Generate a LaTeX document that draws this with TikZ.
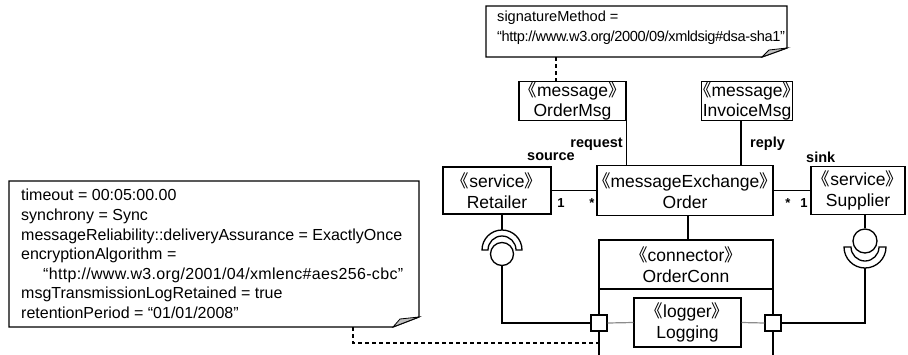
\documentclass[tikz,border=0pt]{standalone}
\usepackage{fontspec}
\setmainfont{Liberation Sans}
\newfontfamily\cjkfont{Noto Sans CJK JP}
% guillemet-style stereotype brackets, trimmed of their outer blank half
\newcommand{\stereo}[1]{\kern-.42em{\cjkfont 《}#1{\cjkfont 》}\kern-.42em}
\begin{document}
\begin{tikzpicture}[x=1pt,y=-1pt,
  box/.style={draw, line width=1.4pt, fill=white, inner sep=0pt, align=center,
    font=\fontsize{17.5}{20.5}\selectfont},
  notetext/.style={inner sep=0pt, align=left, anchor=north west,
    font=\fontsize{16}{19.6}\selectfont},
  lbl/.style={inner sep=0pt, font=\bfseries\fontsize{14.5}{16}\selectfont},
  mult/.style={inner sep=0pt, font=\bfseries\fontsize{13}{15}\selectfont},
  wire/.style={line width=1.3pt},
  inner/.style={line width=1.2pt, draw=black!45},
  dep/.style={line width=1.8pt, dash pattern=on 4pt off 3pt},
  port/.style={draw, line width=1.2pt, fill=white, minimum size=16pt, inner sep=0pt},
  ball/.style={draw, circle, line width=1.3pt, fill=white, inner sep=0pt},
  notebody/.style={draw, line width=1.3pt, fill=white},
  fold/.style={draw, line width=0.8pt, fill=black!25}
]
\useasboundingbox (0,0) rectangle (908,354);

% ---- notes ----
\path[notebody] (486,6) -- (787,6) -- (787,48) -- (762,57) -- (486,57) -- cycle;
\path[fold] (762,57) -- (787,48) -- (769,50) -- cycle;
\node[notetext, font=\fontsize{14.6}{19.6}\selectfont] (sig) at (497,11)
  {signatureMethod =\\{\addfontfeature{LetterSpace=-2.5}“http://www.w3.org/2000/09/xmldsig\#dsa-sha1”}};
\coordinate (sigB) at (556,57);

\path[notebody] (9,181) -- (419,181) -- (419,317) -- (393,327) -- (9,327) -- cycle;
\path[fold] (393,327) -- (419,317) -- (400,319) -- cycle;
\node[notetext] (qos) at (21,189) {timeout = 00:05:00.00\\
synchrony = Sync\\
messageReliability::deliveryAssurance = ExactlyOnce\\
encryptionAlgorithm =\\
\hspace*{22pt}{\addfontfeature{LetterSpace=2}“http://www.w3.org/2001/04/xmlenc\#aes256-cbc”}\\
msgTransmissionLogRetained = true\\
retentionPeriod = “01/01/2008”};
\coordinate (qosB) at (353,327);
\coordinate (qosT) at (599,343);

% ---- boxes ----
\node[box, minimum width=107pt, minimum height=37pt] (om) at (572.5,101) {\stereo{message}\\OrderMsg};
\node[box, minimum width=90pt, minimum height=37pt] (im) at (747,101) {\stereo{message}\\InvoiceMsg};
\node[box, minimum width=108pt, minimum height=47pt] (ret) at (497,190.5) {\stereo{service}\\Retailer};
\node[box, minimum width=176pt, minimum height=50pt] (ord) at (685,190.5) {\stereo{messageExchange}\\Order};
\node[box, minimum width=94pt, minimum height=48pt] (sup) at (858,190.5) {\stereo{service}\\Supplier};

% connector part with its open lower compartment
\draw[line width=1.4pt] (599,289) -- (599,358) (773,289) -- (773,358);
\node[box, minimum width=174pt, minimum height=49pt] (conn) at (686,264.5) {\stereo{connector}\\OrderConn};
\node[box, minimum width=107pt, minimum height=49pt] (log) at (687.5,322.5) {\stereo{logger}\\Logging};

% ---- ports ----
\node[port] (pL) at (599,323) {};
\node[port] (pR) at (773,323) {};

% ---- associations ----
\draw[wire] (ret.east) -- (ord.west |- ret.east);
\draw[wire] (ord.east) -- (sup.west |- ord.east);
\draw[wire] (om.south east) -- (om.south east |- ord.north);
\draw[wire] (741,0 |- im.south) -- (741,0 |- ord.north);
\draw[wire] (688,0 |- ord.south) -- (688,0 |- conn.north);

\node[lbl, anchor=east] (rq) at (623,144) {request};
\node[lbl, anchor=west] (rp) at (750,144) {reply};
\node[lbl, anchor=west] (src) at (527,157) {source};
\node[lbl, anchor=west] (snk) at (806,157) {sink};
\node[mult] (m1) at (561,203) {1};
\node[mult] (m2) at (592,203) {*};
\node[mult] (m3) at (788,203) {*};
\node[mult] (m4) at (804,203) {1};

% ---- dependencies from the notes ----
\draw[dep] (sigB) -- (sigB |- om.north);
\draw[dep] (qosB) |- (qosT);

% ---- internal links of the connector ----
\draw[inner] (pL.east) -- (log.west);
\draw[inner] (log.east) -- (pR.west);

% ---- required / provided interfaces ----
\coordinate (sockL) at (502,250);
\coordinate (sockLtop) at (502,230);
\draw[wire] (ret.south -| sockL) -- (sockLtop);
\path[draw, line width=1.3pt, fill=white] (sockL) ++(-20,0)
  arc[start angle=180, end angle=360, radius=20] -- ++(-6,0)
  arc[start angle=0, end angle=-180, radius=14] -- cycle;
\node[ball, minimum size=23pt] (ballL) at (502,254) {};
\draw[wire] (ballL.south) -- (ballL.south |- pL) -- (pL.west);

\coordinate (sockR) at (865,247);
\coordinate (sockRbot) at (865,268);
\node[ball, minimum size=24pt] (ballR) at (865,241) {};
\draw[wire] (sup.south -| ballR) -- (ballR.north);
\draw[wire] (sockRbot) -- (sockRbot |- pR) -- (pR.east);
\path[draw, line width=1.3pt, fill=white] (sockR) ++(-21,0)
  arc[start angle=180, end angle=0, radius=21] -- ++(-7,0)
  arc[start angle=0, end angle=180, radius=14] -- cycle;
\end{tikzpicture}
\end{document}
